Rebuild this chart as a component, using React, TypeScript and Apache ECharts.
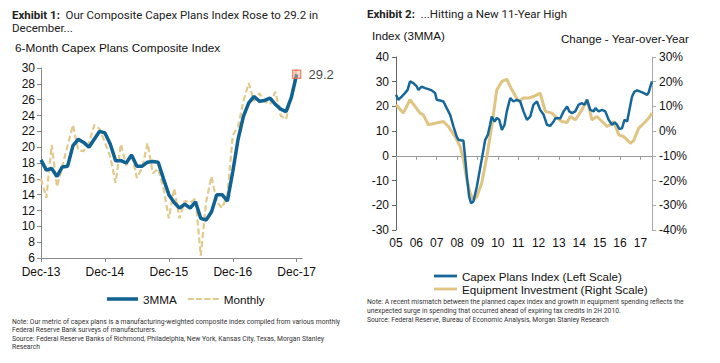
import React, { useEffect, useRef } from 'react';
import * as echarts from 'echarts';

// ---------- Exhibit 1 data (monthly, Dec-13 .. Dec-17) ----------
const ex1Ticks = ['Dec-13', 'Dec-14', 'Dec-15', 'Dec-16', 'Dec-17'];
const ex1Mma = [
  18.4, 17.1, 17.3, 16.3, 17.5, 17.6, 20.2, 21.0, 20.6, 20.0, 21.0, 22.0,
  21.8, 20.4, 18.3, 18.3, 18.0, 19.0, 17.6, 17.6, 18.1, 18.2, 18.1, 16.0,
  14.0, 13.0, 12.3, 12.8, 12.3, 13.1, 11.0, 10.8, 11.8, 14.0, 14.0, 13.2,
  16.9, 21.0, 23.9, 25.6, 26.4, 25.8, 25.9, 26.2, 25.4, 24.8, 24.5, 26.3,
  29.2,
];
const ex1Monthly = [
  16.0, 13.6, 20.3, 15.0, 17.6, 20.2, 22.8, 19.6, 19.5, 20.5, 22.8, 22.3,
  20.6, 18.8, 15.5, 20.4, 17.7, 19.2, 16.1, 17.4, 20.5, 16.7, 17.3, 14.8,
  11.0, 14.8, 11.0, 13.2, 13.0, 13.5, 6.3, 13.1, 16.3, 13.1, 12.3, 14.0,
  21.5, 22.6, 25.8, 28.1, 25.8, 26.8, 25.8, 25.4, 27.0, 24.0, 23.5, 26.5,
  30.0,
];
const ex1LastLabel = '29.2';

// ---------- Exhibit 2 data ----------
const ex2Years = ['05', '06', '07', '08', '09', '10', '11', '12', '13', '14', '15', '16', '17'];
const ex2Capex: [number, number][] = [
  [2005.0, 24.7], [2005.11, 22.7], [2005.28, 24.0], [2005.44, 25.4], [2005.57, 26.7], [2005.69, 30.1],
  [2005.85, 29.4], [2006.02, 28.1], [2006.1, 26.7], [2006.26, 28.0], [2006.43, 27.4], [2006.59, 27.0],
  [2006.75, 26.5], [2006.92, 25.4], [2007.0, 22.7], [2007.16, 22.4], [2007.33, 22.0], [2007.49, 19.3],
  [2007.66, 16.6], [2007.82, 11.9], [2007.98, 7.8], [2008.07, 6.5], [2008.23, 6.2], [2008.31, 6.2],
  [2008.39, -0.3], [2008.48, -8.4], [2008.59, -16.5], [2008.69, -19.2], [2008.8, -18.5], [2008.97, -12.4],
  [2009.13, -5.0], [2009.25, 0.4], [2009.38, 6.5], [2009.51, 8.5], [2009.62, 12.6], [2009.7, 15.9],
  [2009.84, 13.9], [2009.95, 15.3], [2010.07, 14.6], [2010.2, 10.5], [2010.33, 12.6], [2010.44, 18.0],
  [2010.61, 23.4], [2010.77, 22.0], [2010.93, 22.7], [2011.1, 22.0], [2011.26, 18.0], [2011.43, 14.6],
  [2011.59, 15.9], [2011.75, 20.7], [2011.92, 22.0], [2012.08, 18.6], [2012.25, 16.6], [2012.41, 12.6],
  [2012.57, 12.1], [2012.74, 13.9], [2012.82, 15.2], [2013.07, 15.2], [2013.23, 18.0], [2013.4, 20.0],
  [2013.51, 18.0], [2013.64, 17.3], [2013.8, 18.0], [2013.97, 20.7], [2014.13, 21.3], [2014.26, 20.7],
  [2014.38, 22.7], [2014.54, 18.6], [2014.71, 18.0], [2014.79, 19.3], [2014.95, 18.0], [2015.12, 18.6],
  [2015.28, 18.0], [2015.44, 14.6], [2015.61, 12.6], [2015.74, 13.5], [2015.85, 12.6], [2015.97, 10.8],
  [2016.1, 11.2], [2016.22, 14.6], [2016.35, 13.9], [2016.46, 18.6], [2016.59, 24.0], [2016.71, 26.0],
  [2016.84, 26.5], [2017.0, 26.0], [2017.17, 25.4], [2017.33, 24.7], [2017.41, 25.7], [2017.49, 28.1],
  [2017.57, 30.1],
];
const ex2Equip: [number, number][] = [
  [2005.0, 10.7], [2005.36, 7.3], [2005.69, 12.7], [2006.18, 7.3], [2006.34, 6.6], [2006.59, 2.6],
  [2006.92, 3.2], [2007.33, 3.9], [2007.57, 1.9], [2007.9, -2.2], [2008.15, -6.2], [2008.31, -11.6],
  [2008.48, -19.7], [2008.64, -25.1], [2008.8, -27.8], [2008.97, -26.5], [2009.21, -21.0], [2009.46, -10.3],
  [2009.7, 1.9], [2009.95, 16.7], [2010.2, 20.1], [2010.44, 21.0], [2010.69, 16.7], [2011.02, 12.0],
  [2011.26, 13.4], [2011.51, 13.4], [2011.75, 14.0], [2012.08, 15.4], [2012.33, 8.0], [2012.66, 7.3],
  [2012.82, 5.9], [2013.15, 3.9], [2013.4, 3.5], [2013.56, 5.9], [2013.8, 4.6], [2013.97, 6.6],
  [2014.13, 8.6], [2014.38, 12.7], [2014.62, 4.6], [2014.87, 5.9], [2015.12, 3.9], [2015.36, 1.9],
  [2015.53, 2.6], [2015.69, 3.9], [2015.94, -1.5], [2016.18, -2.2], [2016.35, -3.5], [2016.51, -4.9],
  [2016.67, -3.8], [2016.92, 1.2], [2017.17, 3.2], [2017.41, 5.3], [2017.57, 7.3],
];

const FONT = '"Liberation Sans", Arial, sans-serif';
const NOTE_FONT = 'Roboto, "Liberation Sans", Arial, sans-serif';
const BLUE = '#0f6291';
const BLUE2 = '#17679a';
const TAN = '#e2c98c';
const TAN2 = '#dfc482';

const ICON_SOLID_31 = 'path://M0,0H31V3.5H0Z';
const ICON_DASH_31 = 'path://M0,0h6v2.2h-6z M8.3,0h6v2.2h-6z M16.6,0h6v2.2h-6z M24.9,0h6.1v2.2h-6.1z';
const ICON_SOLID_23 = 'path://M0,0H23V2.8H0Z';

export default function App() {
  const ref = useRef<HTMLDivElement>(null);

  useEffect(() => {
    if (!ref.current) return;
    const chart = echarts.init(ref.current, null, { renderer: 'svg' });

    const noteStyle = { fontSize: 6.75, fill: '#333', fontFamily: NOTE_FONT };

    chart.setOption({
      animation: false,
      textStyle: { fontFamily: FONT },
      grid: [
        { left: 41, top: 68, width: 261, height: 190 },
        { left: 396, top: 57, width: 256, height: 173 },
      ],
      xAxis: [
        {
          type: 'value', gridIndex: 0, min: 0, max: 49, interval: 12,
          axisLine: { lineStyle: { color: '#888' } },
          axisTick: { length: 4, lineStyle: { color: '#888' } },
          splitLine: { show: false },
          axisLabel: {
            color: '#111', fontSize: 12, margin: 8, showMaxLabel: false,
            formatter: (v: number) => (v % 12 === 0 ? ex1Ticks[v / 12] ?? '' : ''),
          },
        },
        {
          type: 'value', gridIndex: 1, min: 2005, max: 2017.57, interval: 1, position: 'bottom',
          axisLine: { show: false, onZero: false },
          axisTick: { show: false },
          splitLine: { show: false },
          axisLabel: {
            color: '#111', fontSize: 12, margin: 7, showMaxLabel: false,
            formatter: (v: number) => (Number.isInteger(v) ? ex2Years[v - 2005] ?? '' : ''),
          },
        },
        {
          type: 'value', gridIndex: 1, min: 2005, max: 2017.57, interval: 1, position: 'top',
          axisLine: { show: true, onZero: true, lineStyle: { color: '#999' } },
          axisTick: { show: true, inside: true, length: 4, lineStyle: { color: '#999' } },
          splitLine: { show: false },
          axisLabel: { show: false },
        },
      ],
      yAxis: [
        {
          type: 'value', gridIndex: 0, min: 6, max: 30, interval: 2,
          axisLine: { show: true, onZero: false, lineStyle: { color: '#888' } },
          axisTick: { show: true, length: 4, lineStyle: { color: '#888' } },
          splitLine: { show: false },
          axisLabel: { color: '#111', fontSize: 12, margin: 6 },
        },
        {
          type: 'value', gridIndex: 1, min: -30, max: 40, interval: 10, position: 'left',
          axisLine: { show: true, onZero: false, lineStyle: { color: '#666' } },
          axisTick: { show: true, length: 4, lineStyle: { color: '#666' } },
          splitLine: { show: false },
          axisLabel: { color: '#111', fontSize: 12, margin: 7 },
        },
        {
          type: 'value', gridIndex: 1, min: -40, max: 30, interval: 10, position: 'right',
          axisLine: { show: true, onZero: false, lineStyle: { color: '#aaa' } },
          axisTick: { show: true, length: 4, lineStyle: { color: '#aaa' } },
          splitLine: { show: false },
          axisLabel: { color: '#111', fontSize: 12, margin: 7, formatter: '{value}%' },
        },
      ],
      legend: [
        {
          data: [
            { name: '3MMA', icon: ICON_SOLID_31 },
            { name: 'Monthly', icon: ICON_DASH_31 },
          ],
          left: 102, top: 288, itemWidth: 31, itemHeight: 14, itemGap: 11,
          textStyle: { fontSize: 11.7, color: '#111' },
        },
        {
          data: [
            { name: 'Capex Plans Index (Left Scale)', icon: ICON_SOLID_23 },
            { name: 'Equipment Investment (Right Scale)', icon: ICON_SOLID_23 },
          ],
          orient: 'vertical', left: 429, top: 265, itemWidth: 23, itemHeight: 12, itemGap: 1,
          textStyle: { fontSize: 11.6, color: '#111' },
        },
      ],
      series: [
        {
          name: 'Monthly', type: 'line', xAxisIndex: 0, yAxisIndex: 0, symbol: 'none', z: 2,
          data: ex1Monthly.map((v, i) => [i, v]),
          lineStyle: { color: TAN, width: 2.2, type: [6, 3] }, itemStyle: { color: TAN },
        },
        {
          name: '3MMA', type: 'line', xAxisIndex: 0, yAxisIndex: 0, symbol: 'none', z: 3,
          data: ex1Mma.map((v, i) => [i, v]),
          lineStyle: { color: BLUE, width: 3.5 }, itemStyle: { color: BLUE },
        },
        {
          name: 'last', type: 'scatter', xAxisIndex: 0, yAxisIndex: 0, z: 4,
          data: [[ex1Mma.length - 1, ex1Mma[ex1Mma.length - 1]]],
          symbol: 'rect', symbolSize: 8,
          itemStyle: { color: 'rgba(245,180,160,0.55)', borderColor: '#e2775a', borderWidth: 1.5 },
          label: {
            show: true, position: 'right', distance: 7, formatter: ex1LastLabel,
            fontSize: 13, color: '#111',
          },
        },
        {
          name: 'Capex Plans Index (Left Scale)', type: 'line', xAxisIndex: 1, yAxisIndex: 1,
          symbol: 'none', z: 3, data: ex2Capex,
          lineStyle: { color: BLUE2, width: 2.5 }, itemStyle: { color: BLUE2 },
        },
        {
          name: 'Equipment Investment (Right Scale)', type: 'line', xAxisIndex: 1, yAxisIndex: 2,
          symbol: 'none', z: 2, data: ex2Equip,
          lineStyle: { color: TAN2, width: 3 }, itemStyle: { color: TAN2 },
        },
      ],
      graphic: [
        {
          type: 'text', left: 12, top: 8,
          style: {
            text: '{b|Exhibit 1:}  Our Composite Capex Plans Index Rose to 29.2 in\nDecember...',
            fontSize: 11.5, lineHeight: 13.5, fill: '#222', fontFamily: NOTE_FONT,
            rich: { b: { fontWeight: 'bold', fontSize: 11.5, fill: '#222', fontFamily: NOTE_FONT } },
          },
        },
        {
          type: 'text', left: 15, top: 42,
          style: { text: '6-Month Capex Plans Composite Index', fontSize: 11.8, fill: '#111', fontFamily: FONT },
        },
        {
          type: 'text', left: 367, top: 8,
          style: {
            text: '{b|Exhibit 2:}  ...Hitting a New 11-Year High',
            fontSize: 11.5, fill: '#222', fontFamily: NOTE_FONT,
            rich: { b: { fontWeight: 'bold', fontSize: 11.5, fill: '#222', fontFamily: NOTE_FONT } },
          },
        },
        {
          type: 'text', left: 372, top: 29,
          style: { text: 'Index (3MMA)', fontSize: 11.6, fill: '#111', fontFamily: FONT },
        },
        {
          type: 'text', left: 561, top: 32,
          style: { text: 'Change - Year-over-Year', fontSize: 11.6, fill: '#111', fontFamily: FONT },
        },
        {
          type: 'text', left: 12, top: 318,
          style: {
            ...noteStyle, lineHeight: 8.3,
            text:
              'Note: Our metric of capex plans is a manufacturing-weighted composite index compiled from various monthly\n' +
              'Federal Reserve Bank surveys of manufacturers.\n' +
              'Source: Federal Reserve Banks of Richmond, Philadelphia, New York, Kansas City, Texas, Morgan Stanley\n' +
              'Research',
          },
        },
        {
          type: 'text', left: 367, top: 298,
          style: {
            ...noteStyle, lineHeight: 8.6,
            text:
              'Note: A recent mismatch between the planned capex index and growth in equipment spending reflects the\n' +
              'unexpected surge in spending that occurred ahead of expiring tax credits in 2H 2010.\n' +
              'Source: Federal Reserve, Bureau of Economic Analysis, Morgan Stanley Research',
          },
        },
      ],
    });

    return () => chart.dispose();
  }, []);

  return (
    <div
      ref={ref}
      style={{ position: 'fixed', left: 0, top: 0, width: 720, height: 363, background: '#fff' }}
    />
  );
}
